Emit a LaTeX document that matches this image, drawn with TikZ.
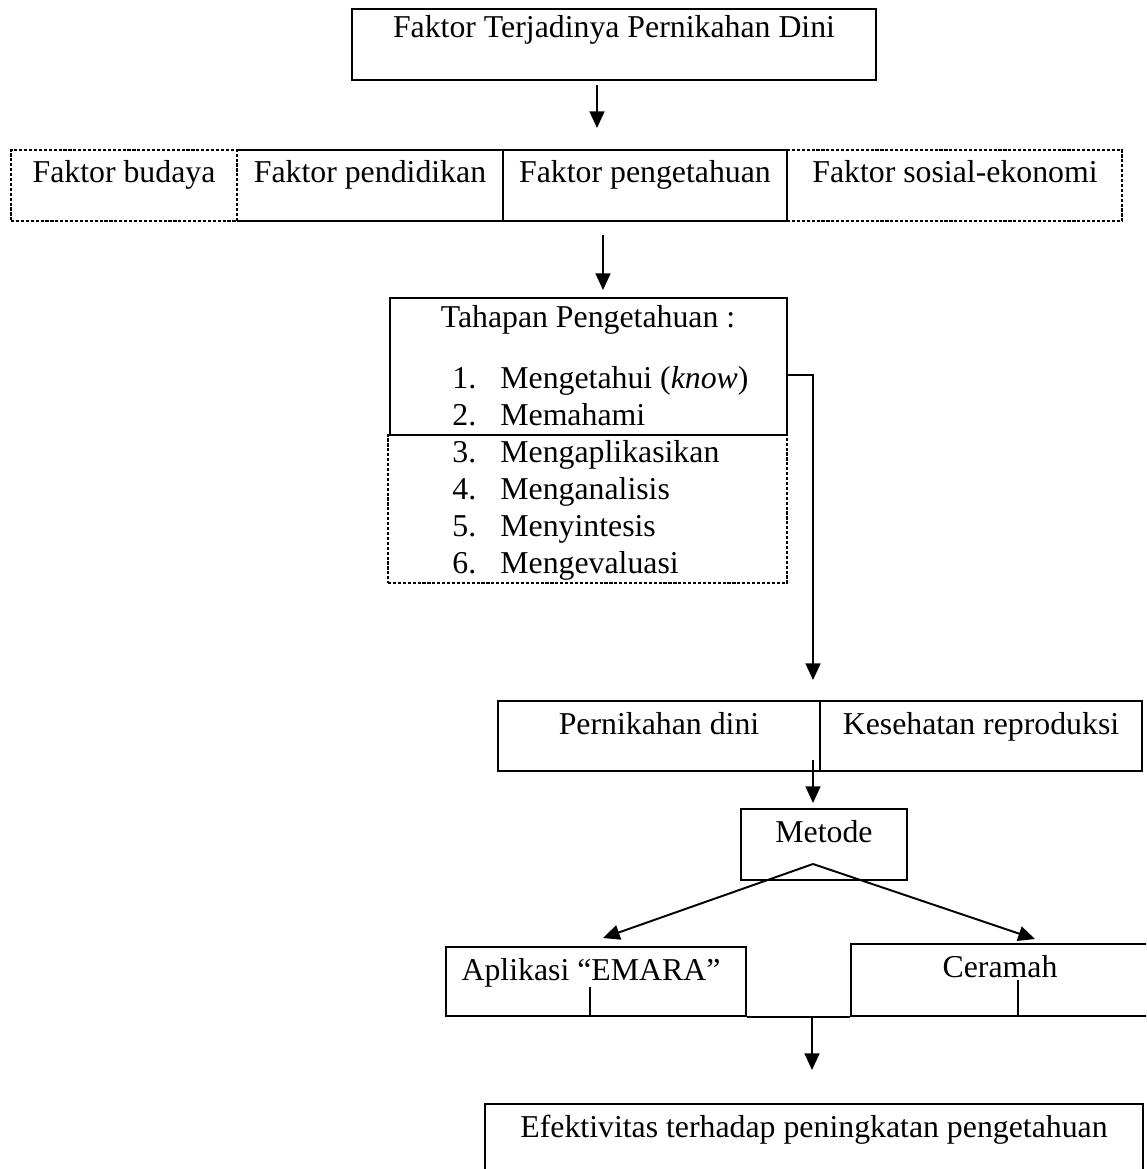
\documentclass[tikz,border=0pt]{standalone}
\usepackage{fontspec}
\setmainfont{Liberation Serif}
\usepackage{tikz}
\usetikzlibrary{arrows.meta,fit,calc}
\tikzstyle{box} = [rectangle, draw, inner sep=0pt, line width=1.1pt]

\begin{document}
\begin{tikzpicture}[x=0.02cm, y=-0.02cm]
    \tikzstyle{dbox} = [box, dash pattern=on 1.8pt off 1pt]
    \tikzstyle{plain} = [rectangle, inner sep=0pt]
    \tikzstyle{txt} = [inner sep=0pt, anchor=base, font=\fontsize{18.1}{20.8}\selectfont]
    \tikzstyle{litem} = [txt, anchor=base west]
    \tikzstyle{arr} = [line width=1.1pt, -{Triangle[length=9.5pt,width=8.5pt]}]
    \tikzstyle{stroke} = [line width=1.1pt]
    \useasboundingbox (0,0) rectangle (1146,1169);
    \clip (0,0) rectangle (1146,1169);
    \node[box, fit={(352,9) (876,80)}] (judul) {};
    \node[txt] (judulT) at (614,38) {Faktor Terjadinya Pernikahan Dini};
    \coordinate (a1s) at (597,85); \coordinate (a1e) at (597,128);
    \draw[arr] (a1s) -- (a1e);
    \node[dbox, fit={(11,150) (237,221)}] (budaya) {};
    \node[plain, fit={(237,150) (503,221)}] (pendidikan) {};
    \draw[stroke] (pendidikan.north west) -- (pendidikan.north east) -- (pendidikan.south east) -- (pendidikan.south west);
    \node[dbox, fit={(787,150) (1122,221)}] (sosial) {};
    \node[box, fit={(503,150) (787,221)}] (pengetahuan) {};
    \node[txt] (budayaT) at (124,183) {Faktor budaya};
    \node[txt] (pendidikanT) at (370,183) {Faktor pendidikan};
    \node[txt] (pengetahuanT) at (645,183) {Faktor pengetahuan};
    \node[txt] (sosialT) at (955,183) {Faktor sosial-ekonomi};
    \coordinate (a2s) at (603,235); \coordinate (a2e) at (603,290);
    \draw[arr] (a2s) -- (a2e);
    \node[dbox, fit={(388,435) (787,583)}] (tahapLanjut) {};
    \node[box, fit={(390,298) (787,435)}] (tahap) {};
    \node[txt] (tahapT) at (588,327) {Tahapan Pengetahuan :};
    \foreach \no/\isi [count=\i from 0] in {1/Mengetahui (\textit{know}), 2/Memahami, 3/Mengaplikasikan, 4/Menganalisis, 5/Menyintesis, 6/Mengevaluasi} {
        \node[litem] (no\no) at (452,{388+37*\i}) {\no.};
        \node[litem] (isi\no) at (500,{388+37*\i}) {\isi};
    }
    \coordinate (belok) at (813,375); \coordinate (a3e) at (813,680);
    \draw[arr] (tahap.east |- belok) -- (belok) -- (a3e);
    \node[box, fit={(498,701) (820,771)}] (pernikahan) {};
    \node[box, fit={(820,701) (1142,771)}] (kespro) {};
    \node[txt] (pernikahanT) at (659,734) {Pernikahan dini};
    \node[txt] (kesproT) at (981,734) {Kesehatan reproduksi};
    \coordinate (a4s) at (813,760); \coordinate (a4e) at (813,803);
    \draw[arr] (a4s) -- (a4e);
    \node[box, fit={(741,809) (907,880)}] (metode) {};
    \node[txt] (metodeT) at (824,842) {Metode};
    \coordinate (puncak) at (813,864);
    \coordinate (ujungKiri) at (603,938); \coordinate (ujungKanan) at (1035,939);
    \draw[arr] (puncak) -- (ujungKiri);
    \draw[arr] (puncak) -- (ujungKanan);
    \node[box, fit={(446,947) (746,1016)}] (aplikasi) {};
    \node[box, fit={(851,944) (1150,1016)}] (ceramah) {};
    \node[txt] (aplikasiT) at (591,980) {Aplikasi “EMARA”};
    \node[txt] (ceramahT) at (1000,977) {Ceramah};
    \coordinate (tikKiri) at (590,987); \coordinate (tikKanan) at (1018,980);
    \draw[stroke] (tikKiri) -- (tikKiri |- aplikasi.south);
    \draw[stroke] (tikKanan) -- (tikKanan |- ceramah.south);
    \draw[stroke] (aplikasi.south east) -- (ceramah.south west);
    \coordinate (a5s) at (812,1016); \coordinate (a5e) at (812,1070);
    \draw[arr] (a5s) -- (a5e);
    \node[box, fit={(485,1104) (1143,1220)}] (efektif) {};
    \node[txt] (efektifT) at (814,1137) {Efektivitas terhadap peningkatan pengetahuan};
\end{tikzpicture}
\end{document}
